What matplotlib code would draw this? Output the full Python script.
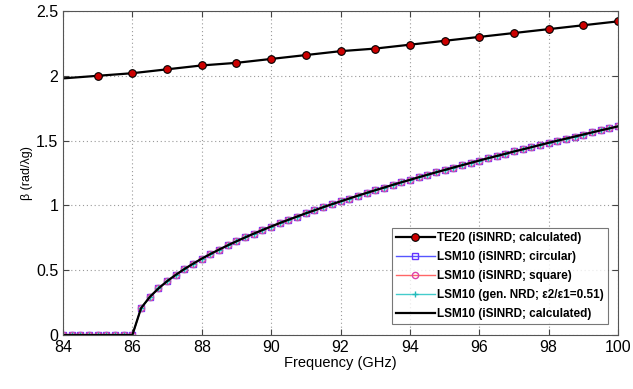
import numpy as np
import matplotlib
matplotlib.use("Agg")
import matplotlib.pyplot as plt

plt.rcParams['font.family'] = ['Liberation Sans', 'DejaVu Sans']

# TE20 (calculated), markers at integer GHz
te20_f = [84, 85, 86, 87, 88, 89, 90, 91, 92, 93, 94, 95, 96, 97, 98, 99, 100]
te20_b = [1.98, 2.00, 2.02, 2.05, 2.08, 2.10, 2.13, 2.16, 2.19, 2.21, 2.24,
          2.27, 2.30, 2.33, 2.36, 2.39, 2.42]

# LSM10, 0.25 GHz steps from 84 to 100
lsm_f = [84 + 0.25 * i for i in range(65)]
lsm_b = [0, 0, 0, 0, 0, 0, 0, 0, 0,
         0.207, 0.293, 0.359, 0.415, 0.464, 0.509, 0.550, 0.589,
         0.625, 0.659, 0.692, 0.723, 0.753, 0.782, 0.810, 0.837,
         0.864, 0.889, 0.914, 0.939, 0.962, 0.986, 1.009, 1.031,
         1.053, 1.075, 1.096, 1.117, 1.137, 1.158, 1.178, 1.197,
         1.217, 1.236, 1.255, 1.273, 1.292, 1.310, 1.328, 1.346,
         1.364, 1.381, 1.398, 1.416, 1.432, 1.449, 1.466, 1.483,
         1.499, 1.515, 1.531, 1.547, 1.563, 1.579, 1.594, 1.610]

xticks = [84, 86, 88, 90, 92, 94, 96, 98, 100]
yticks = [0, 0.5, 1, 1.5, 2, 2.5]
ytick_labels = ["0", "0.5", "1", "1.5", "2", "2.5"]

fig = plt.figure(figsize=(6.33, 3.89), dpi=100)
ax = fig.add_axes([63 / 633, 1 - 335 / 389, 555 / 633, 324 / 389])

ax.plot(te20_f, te20_b, color="black", lw=1.6, marker="o", ms=5.5,
        markerfacecolor="#cc0000", markeredgecolor="black", markeredgewidth=0.8,
        markevery=range(1, len(te20_f)), label="TE20 (iSINRD; calculated)")
ax.plot(lsm_f, lsm_b, color="#5555ff", lw=1, marker="s", ms=4.5,
        markerfacecolor="none", markeredgecolor="#6633ff",
        label="LSM10 (iSINRD; circular)")
ax.plot(lsm_f, lsm_b, color="#ff6666", lw=1, marker="o", ms=4.5,
        markerfacecolor="none", markeredgecolor="#dd44aa",
        label="LSM10 (iSINRD; square)")
ax.plot(lsm_f, lsm_b, color="#44cccc", lw=1, marker="+", ms=4,
        markeredgecolor="#22bbbb",
        label="LSM10 (gen. NRD; \u03b52/\u03b51=0.51)")
ax.plot(lsm_f, lsm_b, color="black", lw=1.6,
        label="LSM10 (iSINRD; calculated)")

ax.set_xlim(84, 100)
ax.set_ylim(0, 2.5)
ax.set_xticks(xticks)
ax.set_yticks(yticks)
ax.set_yticklabels(ytick_labels)
ax.tick_params(direction="in", length=4, labelsize=11.5, color="#444444")
ax.tick_params(top=True, right=True)
ax.grid(True, linestyle=(0, (1, 2.5)), color="#999999", lw=0.8)
for s in ax.spines.values():
    s.set_color("#555555")

ax.set_xlabel("Frequency (GHz)", fontsize=10.5, labelpad=1)
ax.set_ylabel("\u03b2 (rad/\u03bbg)", fontsize=9, labelpad=2)

leg = ax.legend(loc="lower right", bbox_to_anchor=(0.993, 0.015),
                prop={"weight": "bold", "size": 8.5}, frameon=True,
                fancybox=False, edgecolor="#555555", handlelength=3.3,
                borderpad=0.35, labelspacing=0.6, handletextpad=0.2)
leg.get_frame().set_linewidth(0.8)

fig.savefig("out.png", dpi=100)
